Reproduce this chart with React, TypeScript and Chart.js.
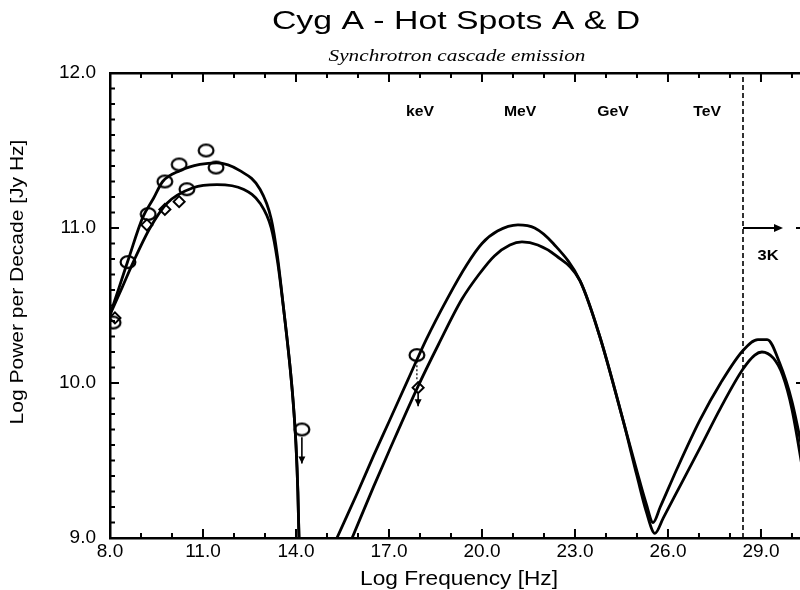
import React, { useEffect, useRef } from "react";
import { Chart, registerables } from "chart.js";
Chart.register(...registerables);

// ---- axis ranges / ticks ----
const xMin = 8;
const xMax = 30.42;
const yMin = 9;
const yMax = 12;
const xLabelEvery = 3;

// ---- synchrotron component, hot spot A (upper) ----
const synchAX = [8.0, 8.3, 8.58, 9.06, 9.4, 9.7, 10.26, 10.9, 11.45, 12.19, 12.84, 13.2, 13.4, 13.6, 13.8, 13.9, 14.0, 14.06, 14.12];
const synchAY = [10.44, 10.62, 10.79, 11.07, 11.19, 11.3, 11.37, 11.41, 11.42, 11.37, 11.25, 11.06, 10.82, 10.48, 10.12, 9.9, 9.6, 9.3, 8.8];

// ---- synchrotron component, hot spot D (lower) ----
const synchDX = [8.0, 8.4, 8.75, 9.29, 9.84, 10.68, 11.45, 12.3, 12.84, 13.2, 13.4, 13.6, 13.8, 13.9, 14.0, 14.06, 14.12];
const synchDY = [10.44, 10.62, 10.78, 11.0, 11.16, 11.26, 11.28, 11.25, 11.16, 11.0, 10.79, 10.48, 10.12, 9.9, 9.6, 9.3, 8.8];

// ---- cascade components, hot spot A ----
const cascAX = [15.1, 15.32, 16.0, 16.5, 17.0, 17.61, 18.2, 18.87, 19.5, 20.0, 20.5, 21.16, 21.7, 22.3, 23.16, 23.8, 24.55, 25.0, 25.3, 25.52, 25.75, 26.3, 27.03, 27.7, 28.42, 28.9, 29.2, 29.6, 30.0, 30.5];
const cascAY = [8.9, 9.0, 9.3, 9.53, 9.75, 10.02, 10.28, 10.54, 10.76, 10.9, 10.98, 11.02, 11.0, 10.9, 10.66, 10.3, 9.76, 9.43, 9.22, 9.1, 9.2, 9.45, 9.76, 10.0, 10.21, 10.28, 10.28, 10.13, 9.88, 9.4];

// ---- cascade components, hot spot D ----
const cascDX = [15.6, 15.81, 16.5, 17.0, 17.94, 18.6, 19.35, 19.9, 20.4, 20.9, 21.29, 21.8, 22.4, 23.16, 23.8, 24.55, 25.0, 25.3, 25.58, 25.85, 26.4, 27.03, 27.7, 28.42, 28.8, 29.03, 29.4, 29.7, 30.0, 30.5];
const cascDY = [8.9, 9.0, 9.33, 9.56, 9.98, 10.25, 10.54, 10.7, 10.82, 10.89, 10.91, 10.89, 10.82, 10.66, 10.3, 9.76, 9.4, 9.17, 9.03, 9.13, 9.34, 9.58, 9.84, 10.09, 10.18, 10.2, 10.16, 10.05, 9.83, 9.25];

// ---- observed data, hot spot A (circles) ----
const obsAX = [8.1, 8.58, 9.23, 9.77, 10.23, 11.1, 11.42, 10.48, 14.19, 17.9];
const obsAY = [10.39, 10.78, 11.09, 11.3, 11.41, 11.5, 11.39, 11.25, 9.7, 10.18];

// ---- observed data, hot spot D (diamonds) ----
const obsDX = [8.16, 9.19, 9.77, 10.23, 17.94];
const obsDY = [10.42, 11.02, 11.12, 11.17, 9.97];

// ---- upper limits (arrows) ----
const limitX = [14.19, 17.94];
const limitTop = [9.65, 9.93];
const limitBottom = [9.48, 9.85];
// dotted connector below the X-ray circle
const dotX = [17.9];
const dotTop = [10.14];
const dotBottom = [10.02];

// ---- 3K marker ----
const cutoffX = 28.42;
const cutoffArrowEnd = 29.71;
const cutoffArrowY = 11.0;
const cutoffLabel = "3K";
const cutoffLabelX = 29.23;
const cutoffLabelY = 10.82;

// ---- energy band labels ----
const bandLabels = ["keV", "MeV", "GeV", "TeV"];
const bandX = [18.0, 21.23, 24.23, 27.26];
const bandY = 11.75;

const titleText = "Cyg A - Hot Spots A & D";
const subtitleText = "Synchrotron cascade emission";
const xTitle = "Log Frequency [Hz]";
const yTitle = "Log Power per Decade [Jy Hz]";

const SANS = "'Liberation Sans', Arial, Helvetica, sans-serif";
const SERIF = "'Liberation Serif', 'Times New Roman', serif";

const pts = (xs: number[], ys: number[]) => xs.map((x, i) => ({ x, y: ys[i] }));

function ellipseImage() {
  const c = document.createElement("canvas");
  c.width = 20;
  c.height = 16;
  const g = c.getContext("2d")!;
  g.lineWidth = 2.2;
  g.strokeStyle = "#000";
  g.beginPath();
  g.ellipse(10, 8, 7.4, 5.8, 0, 0, Math.PI * 2);
  g.stroke();
  return c;
}

function drawText(ctx: CanvasRenderingContext2D, text: string, x: number, y: number, font: string, sx = 1, rot = 0, baseline: CanvasTextBaseline = "alphabetic", sy = 1) {
  ctx.save();
  ctx.translate(x, y);
  if (rot) ctx.rotate(rot);
  ctx.scale(sx, sy);
  ctx.font = font;
  ctx.fillStyle = "#000";
  ctx.textAlign = "center";
  ctx.textBaseline = baseline;
  ctx.fillText(text, 0, 0);
  ctx.restore();
}

const decorPlugin = {
  id: "decor",
  afterDatasetsDraw(chart: any) {
    const { ctx, chartArea: a, scales } = chart;
    const xs = scales.x;
    const ys = scales.y;
    ctx.save();
    ctx.strokeStyle = "#000";
    ctx.fillStyle = "#000";
    // inward ticks, x
    ctx.lineWidth = 2;
    xs.ticks.forEach((t: any) => {
      const px = xs.getPixelForValue(t.value);
      const r = Math.round(t.value);
      const major = Math.abs(t.value - r) < 1e-6 && (r - xMin) % xLabelEvery === 0;
      const len = major ? 9 : 5;
      ctx.beginPath();
      ctx.moveTo(px, a.bottom);
      ctx.lineTo(px, a.bottom - len);
      ctx.moveTo(px, a.top);
      ctx.lineTo(px, a.top + len);
      ctx.stroke();
    });
    ys.ticks.forEach((t: any) => {
      const py = ys.getPixelForValue(t.value);
      const major = Math.abs(t.value - Math.round(t.value)) < 1e-6;
      const len = major ? 9 : 5;
      ctx.beginPath();
      ctx.moveTo(a.left, py);
      ctx.lineTo(a.left + len, py);
      ctx.moveTo(a.right, py);
      ctx.lineTo(a.right - len, py);
      ctx.stroke();
    });
    // upper-limit arrows
    ctx.lineWidth = 1.6;
    limitX.forEach((x, i) => {
      const px = xs.getPixelForValue(x);
      const y1 = ys.getPixelForValue(limitTop[i]);
      const y2 = ys.getPixelForValue(limitBottom[i]);
      ctx.beginPath();
      ctx.moveTo(px, y1);
      ctx.lineTo(px, y2);
      ctx.stroke();
      ctx.beginPath();
      ctx.moveTo(px - 3.5, y2 - 7);
      ctx.lineTo(px + 3.5, y2 - 7);
      ctx.lineTo(px, y2);
      ctx.closePath();
      ctx.fill();
    });
    // dotted connectors
    ctx.setLineDash([2, 2]);
    ctx.lineWidth = 1.2;
    dotX.forEach((x, i) => {
      const px = xs.getPixelForValue(x);
      ctx.beginPath();
      ctx.moveTo(px, ys.getPixelForValue(dotTop[i]));
      ctx.lineTo(px, ys.getPixelForValue(dotBottom[i]));
      ctx.stroke();
    });
    ctx.setLineDash([]);
    // 3K arrowhead
    const ax = xs.getPixelForValue(cutoffArrowEnd);
    const ay = ys.getPixelForValue(cutoffArrowY);
    ctx.beginPath();
    ctx.moveTo(ax, ay);
    ctx.lineTo(ax - 9, ay - 4);
    ctx.lineTo(ax - 9, ay + 4);
    ctx.closePath();
    ctx.fill();
    ctx.restore();

    // annotation labels
    bandLabels.forEach((lab, i) => {
      drawText(ctx, lab, xs.getPixelForValue(bandX[i]), ys.getPixelForValue(bandY), `bold 15px ${SANS}`, 1.05, 0, "middle");
    });
    drawText(ctx, cutoffLabel, xs.getPixelForValue(cutoffLabelX), ys.getPixelForValue(cutoffLabelY), `bold 15px ${SANS}`, 1.1, 0, "middle");
  },
  afterDraw(chart: any) {
    const { ctx } = chart;
    drawText(ctx, titleText, 456, 29, `26px ${SANS}`, 1.3);
    drawText(ctx, subtitleText, 457, 61, `italic 17px ${SERIF}`, 1.25);
    drawText(ctx, xTitle, 459, 585, `21px ${SANS}`, 1.08);
    drawText(ctx, yTitle, 18, 282, `21px ${SANS}`, 1.0, -Math.PI / 2, "middle", 0.88);
  },
};

export default function App() {
  const ref = useRef<HTMLCanvasElement>(null);
  useEffect(() => {
    const canvas = ref.current!;
    const circle = ellipseImage();
    const lineDs = (xs: number[], ys: number[]) => ({
      type: "line" as const,
      data: pts(xs, ys),
      borderColor: "#000",
      borderWidth: 2.8,
      pointRadius: 0,
      fill: false,
      cubicInterpolationMode: "monotone" as const,
    });
    const chart = new Chart(canvas, {
      type: "line",
      data: {
        datasets: [
          lineDs(synchAX, synchAY),
          lineDs(synchDX, synchDY),
          lineDs(cascAX, cascAY),
          lineDs(cascDX, cascDY),
          {
            type: "line",
            data: pts([cutoffX, cutoffX], [yMin, yMax]),
            borderColor: "#000",
            borderWidth: 1.6,
            borderDash: [5, 3],
            pointRadius: 0,
          },
          {
            type: "line",
            data: pts([cutoffX, cutoffArrowEnd - 0.2], [cutoffArrowY, cutoffArrowY]),
            borderColor: "#000",
            borderWidth: 1.8,
            pointRadius: 0,
          },
          {
            type: "scatter",
            data: pts(obsAX, obsAY),
            pointStyle: circle as any,
            pointRadius: 7,
            borderColor: "#000",
            backgroundColor: "rgba(0,0,0,0)",
          },
          {
            type: "scatter",
            data: pts(obsDX, obsDY),
            pointStyle: "rectRot",
            pointRadius: 5.5,
            borderWidth: 2,
            borderColor: "#000",
            backgroundColor: "rgba(0,0,0,0)",
          },
        ],
      } as any,
      options: {
        animation: false,
        responsive: true,
        maintainAspectRatio: false,
        layout: { padding: { top: 73, left: 0, right: 10, bottom: 0 } },
        plugins: { legend: { display: false }, tooltip: { enabled: false }, title: { display: false } },
        scales: {
          x: {
            type: "linear",
            position: "bottom",
            min: xMin,
            max: xMax,
            afterFit: (s: any) => { s.height = 52; },
            border: { display: true, color: "#000", width: 2.5 },
            grid: { display: false, drawTicks: false },
            ticks: {
              stepSize: 1,
              autoSkip: false,
              includeBounds: false,
              maxRotation: 0,
              padding: 2,
              color: "#000",
              font: { family: SANS, size: 19 },
              callback: (v: any) => {
                const r = Math.round(v);
                return Math.abs(v - r) < 1e-6 && (r - xMin) % xLabelEvery === 0 ? r.toFixed(1) : "";
              },
            },
          },
          x2: {
            type: "linear",
            position: "top",
            min: 0,
            max: 1,
            afterFit: (s: any) => { s.height = 0; },
            border: { display: true, color: "#000", width: 2.5 },
            grid: { display: false, drawTicks: false },
            ticks: { display: false },
          },
          y: {
            type: "linear",
            position: "left",
            min: yMin,
            max: yMax,
            afterFit: (s: any) => { s.width = 110; },
            border: { display: true, color: "#000", width: 2.5 },
            grid: { display: false, drawTicks: false },
            ticks: {
              stepSize: 0.1,
              autoSkip: false,
              maxTicksLimit: 100,
              includeBounds: false,
              padding: 14,
              color: "#000",
              font: { family: SANS, size: 19 },
              callback: (v: any) => (Math.abs(v - Math.round(v)) < 1e-6 ? Math.round(v).toFixed(1) : ""),
            },
          },
          y2: {
            type: "linear",
            position: "right",
            min: 0,
            max: 1,
            afterFit: (s: any) => { s.width = 0; },
            border: { display: true, color: "#000", width: 2.5 },
            grid: { display: false, drawTicks: false },
            ticks: { display: false },
          },
        },
      } as any,
      plugins: [decorPlugin],
    });
    return () => chart.destroy();
  }, []);
  return (
    <div style={{ position: "absolute", left: 0, top: 0, width: 800, height: 590, overflow: "hidden", background: "#fff" }}>
      <div style={{ position: "relative", width: 815, height: 590 }}>
        <canvas ref={ref} />
      </div>
    </div>
  );
}
